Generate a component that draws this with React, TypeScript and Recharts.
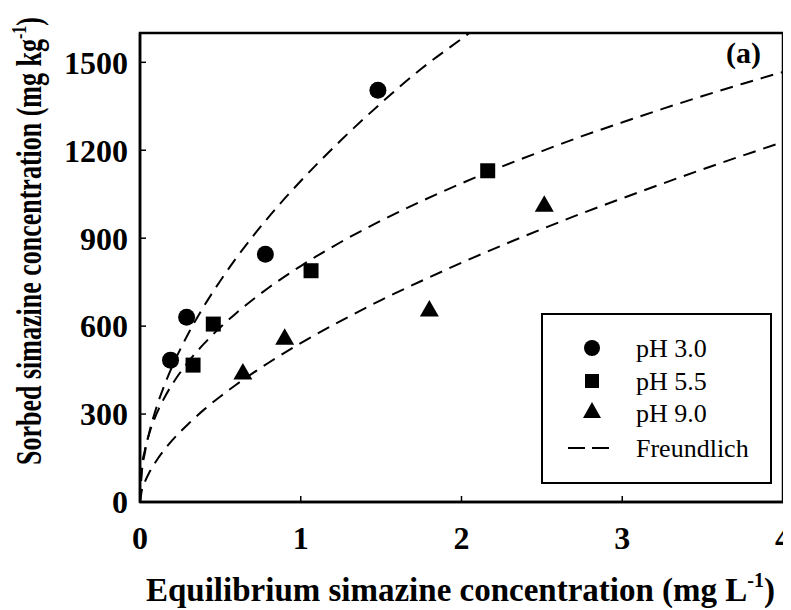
import React from 'react';
import { ComposedChart, Line, Scatter, XAxis, YAxis, Legend, ReferenceArea, Label } from 'recharts';

const xTicks = [0, 1, 2, 3, 4];
const yTicks = [0, 300, 600, 900, 1200, 1500];

// measured points
const ph30 = [
    { x: 0.19, y: 484 },
    { x: 0.29, y: 630 },
    { x: 0.78, y: 845 },
    { x: 1.48, y: 1405 },
];
const ph55 = [
    { x: 0.33, y: 467 },
    { x: 0.456, y: 607 },
    { x: 1.064, y: 789 },
    { x: 2.163, y: 1130 },
];
const ph90 = [
    { x: 0.64, y: 437 },
    { x: 0.9, y: 555 },
    { x: 1.8, y: 652 },
    { x: 2.515, y: 1009 },
];

// Freundlich curves
const fitX = [0, 0.01, 0.03, 0.06, 0.1, 0.15, 0.2, 0.3, 0.4, 0.5, 0.6, 0.8, 1, 1.25, 1.5, 1.75, 2, 2.25, 2.5, 2.75, 3, 3.25, 3.5, 3.75, 4];
const fitPh30 = [0, 93, 167, 242, 319, 396, 462, 574, 670, 755, 833, 972, 1095, 1234, 1361, 1478, 1580, 1680, null, null, null, null, null, null, null];
const fitPh55 = [0, 110, 176, 238, 297, 354, 401, 478, 541, 596, 645, 731, 805, 887, 960, 1026, 1087, 1144, 1197, 1248, 1295, 1341, 1385, 1427, 1467];
const fitPh90 = [0, 36, 68, 103, 139, 177, 210, 266, 316, 360, 401, 475, 542, 618, 689, 754, 816, 875, 931, 985, 1036, 1086, 1135, 1182, 1228];

const toRows = (ys: (number | null)[]) => fitX.map((x, i) => ({ x, y: ys[i] }));

const serif = '"Liberation Serif", "Times New Roman", serif';
const dash = '13 8';

const CircleMark = (p: any) => <circle cx={p.cx} cy={p.cy} r={8.5} fill="#000" />;
const SquareMark = (p: any) => <rect x={p.cx - 7.5} y={p.cy - 7.5} width={15} height={15} fill="#000" />;
const TriangleMark = (p: any) => (
    <polygon
        points={`${p.cx},${p.cy - 11} ${p.cx - 9.5},${p.cy + 5.5} ${p.cx + 9.5},${p.cy + 5.5}`}
        fill="#000"
    />
);

const renderLegend = () => (
    <svg width={231} height={171} style={{ display: 'block' }}>
        <rect x={1} y={1} width={229} height={169} fill="#fff" stroke="#000" strokeWidth={2} />
        <circle cx={51} cy={35} r={8} fill="#000" />
        <rect x={44} y={61} width={14} height={14} fill="#000" />
        <polygon points="51,89 42,105 60,105" fill="#000" />
        <line x1={27} y1={135} x2={69} y2={135} stroke="#000" strokeWidth={2} strokeDasharray="17 7" />
        <g fontFamily={serif} fontSize={26} fill="#000">
            <text x={95} y={44}>pH 3.0</text>
            <text x={95} y={77}>pH 5.5</text>
            <text x={95} y={109}>pH 9.0</text>
            <text x={95} y={144}>Freundlich</text>
        </g>
    </svg>
);

const XLabel = (props: any) => {
    const vb = props.viewBox;
    return (
        <text x={vb.x + vb.width / 2 - 1} y={593} textAnchor="middle" fontFamily={serif} fontWeight="bold" fontSize={33} fill="#000">
            Equilibrium simazine concentration (mg L
            <tspan fontSize={20} dy={-14}>-1</tspan>
            <tspan dy={14}>)</tspan>
        </text>
    );
};

const YLabel = () => (
    <text
        x={0}
        y={0}
        transform="translate(33,233) scale(1.35,1) rotate(-90)"
        textAnchor="middle"
        fontFamily={serif}
        fontWeight="bold"
        fontSize={26}
        fill="#000"
    >
        Sorbed simazine concentration (mg kg
        <tspan fontSize={16} dy={-11}>-1</tspan>
        <tspan dy={11}>)</tspan>
    </text>
);

const tickStyle = { fontFamily: serif, fontWeight: 'bold' as const, fontSize: 32, fill: '#000' };

export default function App() {
    return (
        <div style={{ position: 'relative', width: 783, height: 602 }}>
            <ComposedChart width={783} height={602} margin={{ top: 25, right: 8, bottom: 0, left: 0 }}>
                <XAxis
                    type="number"
                    dataKey="x"
                    domain={[0, 4]}
                    ticks={xTicks}
                    interval={0}
                    allowDataOverflow
                    height={108}
                    tickSize={-6}
                    tickMargin={30}
                    tick={tickStyle}
                    axisLine={{ stroke: '#000', strokeWidth: 2.5 }}
                    tickLine={{ stroke: '#000', strokeWidth: 1.5 }}
                >
                    <Label content={XLabel} />
                </XAxis>
                <YAxis
                    type="number"
                    dataKey="y"
                    domain={[0, 1600]}
                    ticks={yTicks}
                    interval={0}
                    allowDataOverflow
                    width={132}
                    tickSize={-6}
                    tickMargin={18}
                    tick={tickStyle}
                    axisLine={{ stroke: '#000', strokeWidth: 2.5 }}
                    tickLine={{ stroke: '#000', strokeWidth: 1.5 }}
                >
                    <Label content={YLabel} />
                </YAxis>
                <ReferenceArea x1={0} x2={4} y1={0} y2={1600} fill="none" stroke="#000" strokeWidth={2.5} />
                <Line data={toRows(fitPh30)} dataKey="y" type="monotone" stroke="#000" strokeWidth={2} strokeDasharray={dash} dot={false} isAnimationActive={false} legendType="none" />
                <Line data={toRows(fitPh55)} dataKey="y" type="monotone" stroke="#000" strokeWidth={2} strokeDasharray={dash} dot={false} isAnimationActive={false} legendType="none" />
                <Line data={toRows(fitPh90)} dataKey="y" type="monotone" stroke="#000" strokeWidth={2} strokeDasharray={dash} dot={false} isAnimationActive={false} legendType="none" />
                <Scatter data={ph30} dataKey="y" shape={CircleMark} isAnimationActive={false} />
                <Scatter data={ph55} dataKey="y" shape={SquareMark} isAnimationActive={false} />
                <Scatter data={ph90} dataKey="y" shape={TriangleMark} isAnimationActive={false} />
                <Legend
                    content={renderLegend}
                    layout="horizontal"
                    verticalAlign="middle"
                    align="center"
                    width={231}
                    height={171}
                    wrapperStyle={{ left: 533, top: 305, width: 231, height: 171 }}
                />
            </ComposedChart>
            <div
                style={{
                    position: 'absolute',
                    left: 718,
                    top: 30,
                    fontFamily: serif,
                    fontWeight: 'bold',
                    fontSize: 30,
                    lineHeight: '30px',
                }}
            >
                (a)
            </div>
        </div>
    );
}
